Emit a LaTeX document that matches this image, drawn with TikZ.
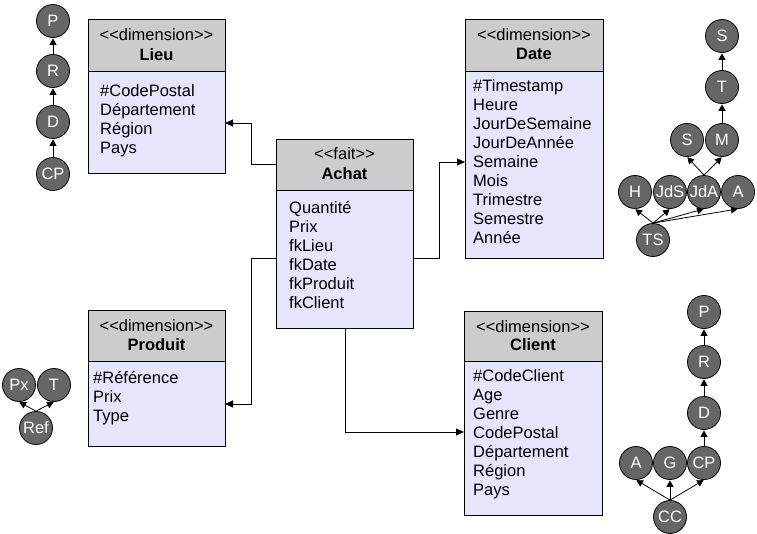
\documentclass[tikz,border=0pt]{standalone}
\usepackage{fontspec}
\setmainfont{Liberation Sans}
\usetikzlibrary{arrows.meta}
\definecolor{hdr}{RGB}{204,204,204}
\definecolor{bdy}{RGB}{229,229,252}
\definecolor{hcirc}{RGB}{102,102,102}
\begin{document}
\begin{tikzpicture}[x=1pt,y=-1pt,
  every node/.style={font=\fontsize{16.5}{19}\selectfont},
  hdrbox/.style={draw=black, fill=hdr, line width=1pt, anchor=north west, inner sep=0pt, outer sep=0pt},
  bdybox/.style={draw=black, fill=bdy, line width=1pt, anchor=north west, inner sep=0pt, outer sep=0pt},
  attr/.style={anchor=base west, inner sep=0pt},
  ttl/.style={anchor=base, inner sep=0pt},
  bttl/.style={anchor=base, inner sep=0pt, font=\fontsize{16.5}{19}\selectfont\bfseries},
  conn/.style={line width=1pt, -{Triangle[length=8pt,width=7pt]}},
  hn/.style={circle, draw=black, fill=hcirc, text=white, minimum size=33pt, inner sep=0pt, line width=0.8pt},
  harr/.style={line width=0.8pt, -{Triangle[length=6.5pt,width=7pt]}, shorten >=0.5pt}]
\useasboundingbox (0,0) rectangle (757,533);

% ---------- Lieu ----------
\node[hdrbox, minimum width=137pt, minimum height=52pt] (lieuh) at (88,19) {};
\node[bdybox, minimum width=137pt, minimum height=102pt] (lieu) at (88,71) {};
\node[ttl] (lieut1) at (156.5,40) {<{}<dimension>{}>};
\node[bttl] (lieut2) at (156.5,60) {Lieu};
\foreach \t [count=\i] in {\#CodePostal,Département,Région,Pays}
  \node[attr] (lieua\i) at (100,96+19*\i-19) {\t};

% ---------- Date ----------
\node[hdrbox, minimum width=138pt, minimum height=52pt] (dateh) at (465,19) {};
\node[bdybox, minimum width=138pt, minimum height=187pt] (date) at (465,71) {};
\node[ttl] (datet1) at (534,40) {<{}<dimension>{}>};
\node[bttl] (datet2) at (534,59) {Date};
\foreach \t [count=\i] in {\#Timestamp,Heure,JourDeSemaine,JourDeAnnée,Semaine,Mois,Trimestre,Semestre,Année}
  \node[attr] (datea\i) at (473,91+19*\i-19) {\t};

% ---------- Achat ----------
\node[hdrbox, minimum width=137pt, minimum height=51pt] (achath) at (276,139) {};
\node[bdybox, minimum width=137pt, minimum height=138pt] (achat) at (276,190) {};
\node[ttl] (achatt1) at (344.5,159) {<{}<fait>{}>};
\node[bttl] (achatt2) at (344.5,179) {Achat};
\foreach \t [count=\i] in {Quantité,Prix,fkLieu,fkDate,fkProduit,fkClient}
  \node[attr] (achata\i) at (289,213+19*\i-19) {\t};

% ---------- Produit ----------
\node[hdrbox, minimum width=137pt, minimum height=51pt] (produith) at (88,310) {};
\node[bdybox, minimum width=137pt, minimum height=85pt] (produit) at (88,361) {};
\node[ttl] (produitt1) at (156.5,331) {<{}<dimension>{}>};
\node[bttl] (produitt2) at (156.5,350) {Produit};
\foreach \t [count=\i] in {\#Référence,Prix,Type}
  \node[attr] (produita\i) at (93,383+19*\i-19) {\t};

% ---------- Client ----------
\node[hdrbox, minimum width=138pt, minimum height=50pt] (clienth) at (464,311) {};
\node[bdybox, minimum width=138pt, minimum height=154pt] (client) at (464,361) {};
\node[ttl] (clientt1) at (533,332) {<{}<dimension>{}>};
\node[bttl] (clientt2) at (533,350) {Client};
\foreach \t [count=\i] in {\#CodeClient,Age,Genre,CodePostal,Département,Région,Pays}
  \node[attr] (clienta\i) at (473,381+19*\i-19) {\t};

% ---------- connectors ----------
\draw[conn] ([yshift=-25pt]achath.north west) -- ++(-25,0) |- ([yshift=-52pt]lieu.north east);
\draw[conn] ([yshift=-68pt]achat.north east) -- ++(26,0) |- ([yshift=-91pt]date.north west);
\draw[conn] ([yshift=-68pt]achat.north west) -- ++(-25,0) |- ([yshift=-43pt]produit.north east);
\draw[conn] ([xshift=69pt]achat.south west) |- ([yshift=-71pt]client.north west);

% ---------- Lieu hierarchy ----------
\node[hn] (lp) at (53,21) {P};
\node[hn] (lr) at (53,71) {R};
\node[hn] (ld) at (53,122) {D};
\node[hn] (lcp) at (53,174) {CP};
\draw[harr] (lcp) -- (ld);
\draw[harr] (ld) -- (lr);
\draw[harr] (lr) -- (lp);

% ---------- Produit hierarchy ----------
\node[hn] (ppx) at (19,385) {Px};
\node[hn] (pt) at (54,385) {T};
\node[hn] (pref) at (36,428) {Ref};
\draw[harr] (pref.north) -- (ppx.south);
\draw[harr] (pref.north) -- (pt.south);

% ---------- Date hierarchy ----------
\node[hn] (ds) at (722,36) {S};
\node[hn] (dt) at (722,87) {T};
\node[hn] (dsem) at (687,140) {S};
\node[hn] (dm) at (722,140) {M};
\node[hn] (dh) at (635,192) {H};
\node[hn] (djds) at (670,192) {JdS};
\node[hn] (djda) at (704,192) {JdA};
\node[hn] (da) at (738,192) {A};
\node[hn] (dts) at (653,240) {TS};
\draw[harr] (dts.north) -- (dh.south);
\draw[harr] (dts.north) -- (djds.south);
\draw[harr] (dts.north) -- (djda.south);
\draw[harr] (dts.north) -- (da.south);
\draw[harr] (djda.north) -- (dsem.south);
\draw[harr] (djda.north) -- (dm.south);
\draw[harr] (dm) -- (dt);
\draw[harr] (dt) -- (ds);

% ---------- Client hierarchy ----------
\node[hn] (cp) at (704,312) {P};
\node[hn] (cr) at (704,362) {R};
\node[hn] (cd) at (704,413) {D};
\node[hn] (ca) at (636,463) {A};
\node[hn] (cg) at (670,463) {G};
\node[hn] (ccp) at (704,463) {CP};
\node[hn] (ccc) at (670,517) {CC};
\draw[harr] (ccc.north) -- (ca.south);
\draw[harr] (ccc.north) -- (cg.south);
\draw[harr] (ccc.north) -- (ccp.south);
\draw[harr] (ccp) -- (cd);
\draw[harr] (cd) -- (cr);
\draw[harr] (cr) -- (cp);
\end{tikzpicture}
\end{document}
